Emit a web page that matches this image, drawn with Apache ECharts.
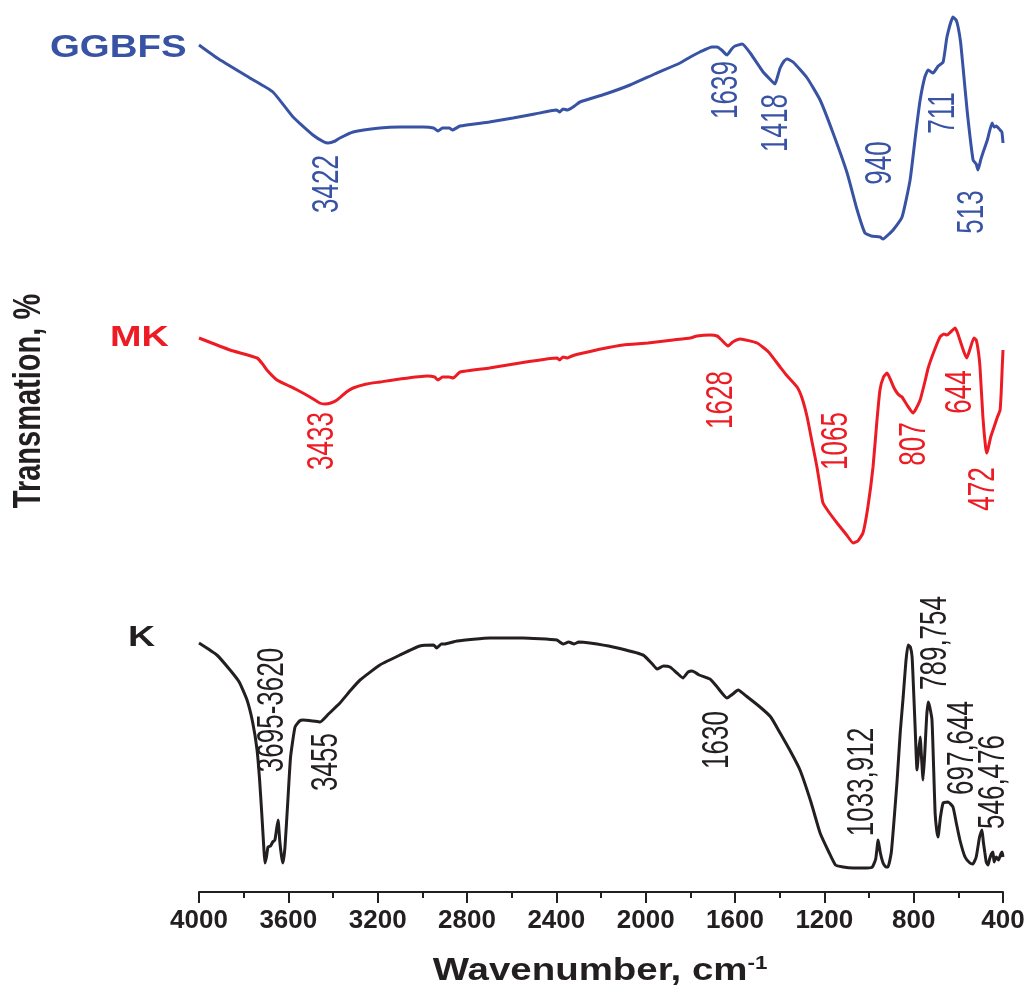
<!DOCTYPE html>
<html>
<head>
<meta charset="utf-8">
<title>FTIR spectra</title>
<script src="https://cdn.jsdelivr.net/npm/echarts@6/dist/echarts.min.js"></script>
<style>
  html, body { margin: 0; padding: 0; background: #fff; }
  #chart { width: 1031px; height: 990px; }
</style>
</head>
<body>
<div id="chart"></div>
<script>
// spectra: [wavenumber, transmission (offset, a.u.)]
var ggbfsData = [
  [4000,847],[3919,834],[3772,814],[3669,800],[3579,775],[3490,757],[3440,750],[3422,749],[3390,751],
  [3369,754],[3310,760],[3190,764],[3100,765],[2997,765],[2950,764],[2930,761],[2910,764],[2880,764],
  [2865,762],[2831,766],[2700,770],[2594,774],[2497,778],[2400,782],[2385,780],[2370,783],[2350,782],
  [2325,785],[2294,790],[2180,798],[2070,807],[1960,818],[1846,829],[1800,835],[1757,840],[1703,845],
  [1680,845],[1660,842],[1636,837],[1615,843],[1600,846],[1568,848],[1532,839],[1474,820],[1440,812],
  [1421,808],[1410,815],[1398,824],[1380,831],[1367,833],[1340,830],[1277,814],[1219,792],[1161,759],
  [1098,719],[1053,682],[1018,659],[990,656],[951,655],[937,653],[915,657],[892,662],[852,675],
  [816,712],[790,760],[771,792],[750,815],[735,822],[713,819],[690,826],[668,830],[651,855],[624,875],
  [610,872],[601,865],[590,850],[579,825],[560,780],[534,732],[520,728],[512,722],[500,732],[490,739],
  [470,752],[449,769],[440,765],[430,766],[413,762],[405,760],[400,749]
];
var mkData = [
  [4000,554],[3861,542],[3740,534],[3715,528],[3696,522],[3651,512],[3606,507],[3560,502],[3503,495],
  [3460,489],[3436,488],[3410,489],[3382,492],[3340,500],[3310,504],[3250,508],[3190,510],[3100,513],
  [2979,516],[2945,515],[2930,512],[2910,515],[2880,515],[2862,514],[2831,520],[2700,524],[2563,529],
  [2397,534],[2385,532],[2370,535],[2350,534],[2330,536],[2300,538],[2280,539],[2200,543],[2101,547],
  [1990,549],[1877,552],[1800,554],[1770,556],[1712,557],[1680,556],[1660,552],[1631,546],[1610,550],
  [1577,553],[1501,549],[1450,540],[1398,525],[1370,517],[1322,505],[1300,494],[1277,475],
  [1255,450],[1233,425],[1215,400],[1206,389],[1180,380],[1143,369],[1100,357],[1071,349],[1050,351],
  [1027,359],[1005,385],[982,425],[965,470],[951,502],[935,515],[919,519],[905,513],[890,505],[874,499],
  [860,496],[852,495],[830,487],[803,479],[790,483],[771,492],[750,510],[735,524],[710,540],[682,555],
  [665,558],[651,557],[630,561],[615,564],[605,560],[590,550],[575,540],[562,534],[545,545],[530,554],
  [520,552],[510,540],[503,525],[490,475],[478,445],[472,439],[465,445],[455,455],[440,465],[425,475],
  [413,482],[408,500],[404,522],[400,542]
];
var kData = [
  [4000,249],[3920,237],[3861,222],[3820,210],[3785,192],[3760,170],[3740,142],[3728,110],[3718,75],
  [3710,45],[3705,29],[3698,35],[3691,45],[3680,46],[3670,50],[3660,52],[3646,72],[3638,50],[3630,35],
  [3624,29],[3615,45],[3602,92],[3590,135],[3570,165],[3550,171],[3534,172],[3490,171],[3458,170],
  [3420,178],[3369,189],[3320,202],[3279,212],[3190,227],[3100,237],[3011,246],[2950,247],[2935,244],
  [2915,248],[2900,248],[2845,251],[2697,254],[2550,254],[2397,252],[2385,250],[2370,248],[2345,250],
  [2320,248],[2300,250],[2250,249],[2146,245],[2012,237],[1970,228],[1949,223],[1920,226],[1891,225],
  [1860,219],[1833,214],[1810,220],[1792,221],[1760,217],[1712,213],[1680,205],[1636,194],[1610,198],
  [1586,202],[1550,196],[1488,185],[1440,175],[1398,159],[1350,140],[1309,122],[1260,90],[1219,59],
  [1180,40],[1150,27],[1116,25],[1071,24],[1009,24],[985,25],[970,33],[959,52],[950,40],[937,29],
  [925,25],[915,25],[900,40],[885,80],[874,112],[860,160],[847,195],[835,230],[825,247],[815,245],
  [807,235],[800,200],[793,162],[785,122],[778,140],[771,155],[765,135],[758,112],[750,140],[742,175],
  [735,190],[728,185],[718,172],[710,120],[704,79],[697,62],[691,55],[680,75],[668,89],[646,90],
  [624,85],[610,70],[593,52],[570,35],[548,29],[535,28],[520,35],[505,55],[494,62],[488,50],[481,39],
  [475,30],[467,27],[460,33],[452,38],[445,40],[440,30],[430,35],[420,32],[410,38],[404,40],[400,35]
];

// peak annotations: [wavenumber, y] + text
var ggbfsPeaks = [[3422,708],[1636,802],[1412,769],[950,729],[668,779],[534,680]];
var ggbfsPeakText = ['3422','1639','1418','940','711','513'];
var mkPeaks = [[3445,451],[1658,492],[1143,451],[794,448],[592,500],[489,403]];
var mkPeakText = ['3433','1628','1065','807','644','472'];
var kPeaks = [[3669,182],[3427,130],[1676,152],[1027,110],[704,249],[579,144],[444,110]];
var kPeakText = ['3695-3620','3455','1630','1033,912','789,754','697,644','546,476'];

var xTicks = { min: 400, max: 4000, step: 400 };

var BLUE = '#3953a4', RED = '#ed1c24', BLACK = '#231f20';
var FONT = '"Liberation Sans", Arial, sans-serif';

var chart = echarts.init(document.getElementById('chart'));

function lineSeries(name, data, color) {
  return {
    name: name, type: 'line', data: data, showSymbol: false, smooth: 0.15,
    lineStyle: { color: color, width: 3 }, z: 2
  };
}

// rotated peak labels placed through the axes
function peakSeries(points, texts, color) {
  return {
    type: 'custom', data: points, encode: { x: 0, y: 1 }, z: 3,
    renderItem: function (params, api) {
      var p = api.coord([api.value(0), api.value(1)]);
      return {
        type: 'text', x: p[0], y: p[1], rotation: Math.PI / 2, scaleY: 1.45,
        style: {
          text: texts[params.dataIndex], fill: color, font: '26px ' + FONT,
          align: 'center', verticalAlign: 'middle', textAlign: 'center', textVerticalAlign: 'middle'
        }
      };
    }
  };
}

function nameText(text, x, y, color, size, sx) {
  return {
    type: 'text', x: x, y: y, scaleX: sx,
    style: { text: text, fill: color, font: 'bold ' + size + 'px ' + FONT, align: 'left', verticalAlign: 'middle' }
  };
}

chart.setOption({
  animation: false,
  backgroundColor: '#fff',
  grid: { left: 199, right: 28, top: 12, bottom: 98, containLabel: false },
  xAxis: {
    type: 'value', inverse: true,
    min: xTicks.min, max: xTicks.max, interval: xTicks.step,
    axisLine: { lineStyle: { color: BLACK, width: 2 } },
    axisTick: { show: true, inside: false, length: 11, lineStyle: { color: BLACK, width: 2 } },
    minorTick: { show: true, splitNumber: 2, length: 6, lineStyle: { color: BLACK, width: 2 } },
    splitLine: { show: false },
    axisLabel: {
      margin: 16, color: BLACK, fontFamily: FONT, fontWeight: 'bold', fontSize: 26,
      showMinLabel: true, showMaxLabel: true,
      formatter: function (v) { return String(v); }
    }
  },
  yAxis: { type: 'value', min: 0, max: 880, show: false },
  series: [
    lineSeries('GGBFS', ggbfsData, BLUE),
    lineSeries('MK', mkData, RED),
    lineSeries('K', kData, BLACK),
    peakSeries(ggbfsPeaks, ggbfsPeakText, BLUE),
    peakSeries(mkPeaks, mkPeakText, RED),
    peakSeries(kPeaks, kPeakText, BLACK)
  ],
  graphic: [
    nameText('GGBFS', 50, 48, BLUE, 32, 1.2),
    nameText('MK', 110, 338, RED, 30, 1.26),
    nameText('K', 128, 638, BLACK, 30, 1.25),
    {
      type: 'text', x: 29, y: 401, rotation: Math.PI / 2, scaleY: 1.35,
      style: { text: 'Transmation, %', fill: BLACK, font: 'bold 29px ' + FONT, align: 'center', verticalAlign: 'middle' }
    },
    {
      // x-axis title, stretched a bit wider like the original
      type: 'text', x: 600, y: 971, scaleX: 1.24,
      style: {
        text: '{a|Wavenumber, cm}{s|-1}', fill: BLACK, align: 'center', verticalAlign: 'middle',
        rich: {
          a: { font: 'bold 31px ' + FONT, fill: BLACK },
          s: { font: 'bold 18px ' + FONT, fill: BLACK, verticalAlign: 'top' }
        }
      }
    }
  ]
});
</script>
</body>
</html>
